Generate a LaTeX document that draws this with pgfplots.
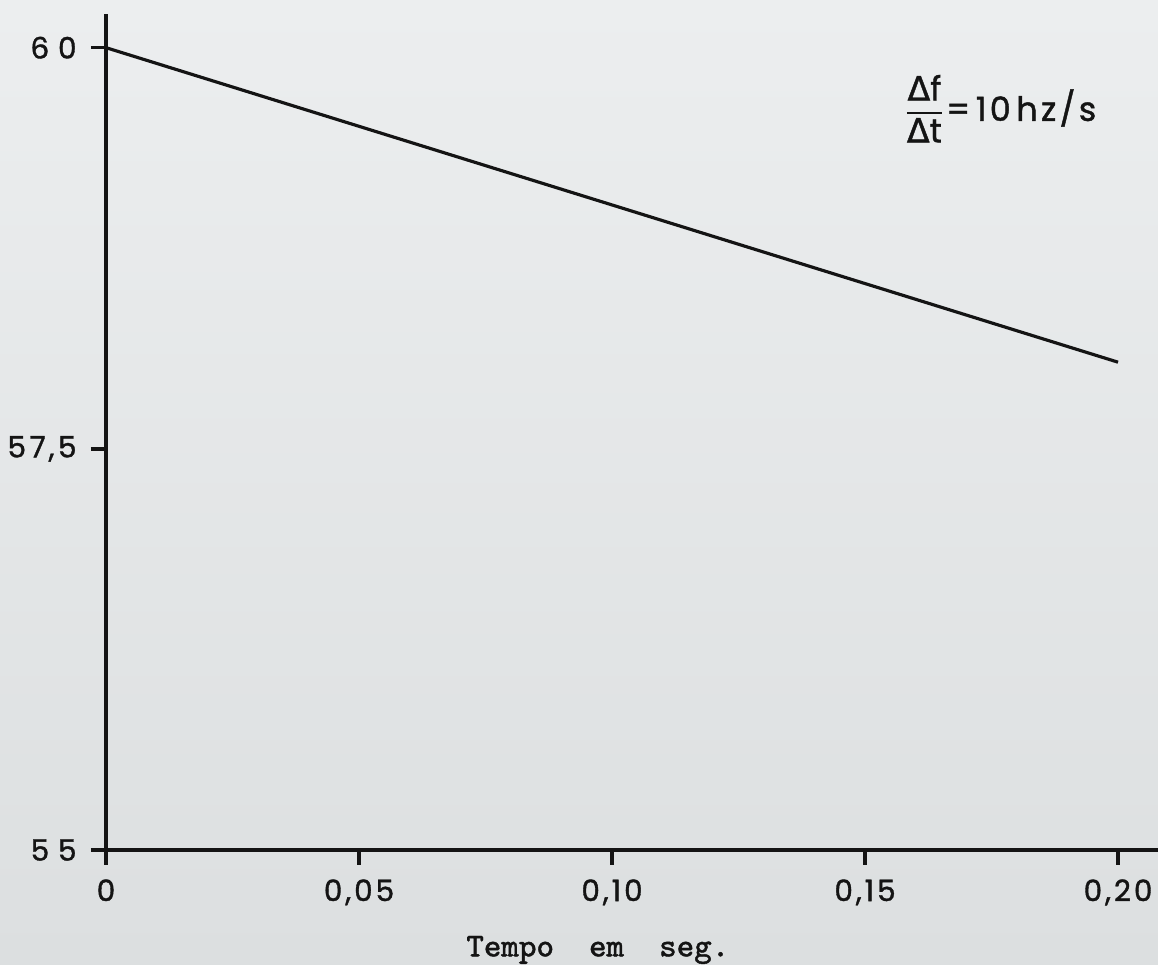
\documentclass[border=0pt]{standalone}
\usepackage{fontspec}
\usepackage{pgfplots}
\pgfplotsset{compat=1.18}
\setmainfont{Poppins}
\newfontfamily\tickfont[LetterSpace=10, FakeBold=1.2]{Poppins}
\newfontfamily\greekfont[FakeBold=1.2]{DejaVu Sans}
\newfontfamily\labmono[FakeBold=1.2]{Latin Modern Mono}
\definecolor{papertop}{RGB}{236,238,239}
\definecolor{paperbot}{RGB}{220,223,224}
\definecolor{ink}{RGB}{20,20,20}
\begin{document}
\begin{tikzpicture}
\shade[top color=papertop, bottom color=paperbot] (-1.06cm,-1.15cm) rectangle (10.52cm,8.50cm);
\useasboundingbox (-1.06cm,-1.15cm) rectangle (10.52cm,8.50cm);
\begin{axis}[
  scale only axis,
  width=10.52cm, height=8.36cm,
  xmin=0, xmax=0.2079,
  ymin=55, ymax=60.21,
  axis x line=bottom, axis y line=left,
  axis line style={-, line width=1.1pt, ink},
  tick align=outside,
  major tick length=0.15cm,
  tick style={line width=1pt, ink},
  xtick={0,0.05,0.10,0.15,0.20},
  xticklabels={0, 0{,}05, 0{,}10, 0{,}15, 0{,}20},
  ytick={55,57.5,60},
  yticklabels={5\kern2.5pt 5, 5\kern1pt 7{,}\kern1pt 5, 6\kern2.5pt 0},
  tick label style={font=\fontsize{8.4}{10}\tickfont, text=ink},
  xticklabel style={yshift=-0.02cm},
  yticklabel style={xshift=-0.02cm},
  clip=false,
]
\addplot[line width=0.9pt, ink] coordinates {(0,60) (0.2,58.04)};
\node[anchor=west, font=\fontsize{9.5}{10}\tickfont, text=ink, inner sep=0pt] at (axis cs:0.1573,59.62)
  {$\displaystyle\frac{\hbox{\greekfont Δ\tickfont f}}{\hbox{\greekfont Δ\tickfont t}}$=\,10\,hz/s};
\node[font=\fontsize{9.5}{10}\labmono, text=ink] at (axis cs:0.0972,55) [yshift=-1.0cm] {Tempo\ \ em\ \ seg.};
\end{axis}
\end{tikzpicture}
\end{document}
